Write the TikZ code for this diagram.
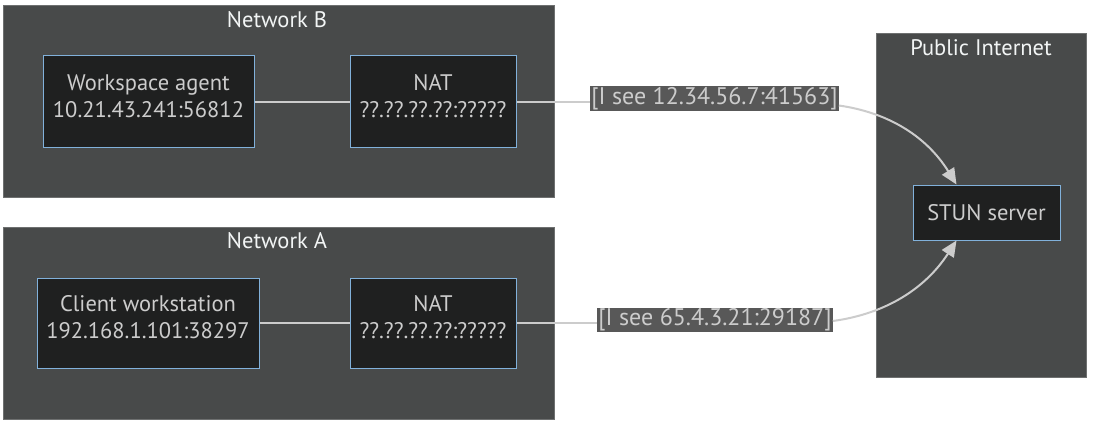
\documentclass[tikz,border=0pt]{standalone}
\usepackage{fontspec}
\setmainfont{PT Sans}
\usetikzlibrary{arrows.meta}

\definecolor{clusterbg}{HTML}{484A4A}
\definecolor{clusterline}{HTML}{6E7070}
\definecolor{nodebg}{HTML}{1F2020}
\definecolor{nodeline}{HTML}{81B1DB}
\definecolor{nodetext}{HTML}{CCCCCC}
\definecolor{titletext}{HTML}{F2F5F5}
\definecolor{labelbg}{HTML}{585858}
\definecolor{edgeline}{HTML}{CCCCCC}

\begin{document}
\begin{tikzpicture}[x=1pt, y=1pt,
  cluster/.style={fill=clusterbg, draw=clusterline, line width=0.8pt},
  title/.style={font=\fontsize{22.5}{26}\selectfont, text=titletext},
  box/.style={fill=nodebg, draw=nodeline, line width=1pt, inner sep=0pt},
  boxtext/.style={font=\fontsize{22.5}{27}\selectfont, text=nodetext, align=center},
  seen/.style={fill=labelbg, text=nodetext, font=\fontsize{24}{26}\selectfont, inner xsep=1pt, inner ysep=1pt},
  link/.style={draw=edgeline, line width=2pt},
  hop/.style={link, -{Triangle[length=16pt, width=14pt]}}]

\useasboundingbox (0,0) rectangle (1099,424);
\fill[white] (0,0) rectangle (1099,424);

% === CLUSTERS ===
\draw[cluster] (3,227) rectangle (554,419);
\node[title] (netb) at (277,404) {Network B};
\draw[cluster] (3,5) rectangle (554,197);
\node[title] (neta) at (277,183) {Network A};
\draw[cluster] (876,47) rectangle (1086,391);
\node[title] (inet) at (981,376) {Public Internet};

% === NETWORK B ===
\node[box, minimum width=211pt, minimum height=91pt] (agent) at (148.5,322.5) {};
\node[boxtext] at (148.5,328) {Workspace agent\\10.21.43.241:56812};
\node[box, minimum width=166pt, minimum height=91pt] (natb) at (433,322.5) {};
\node[boxtext] at (433,328) {NAT\\??.??.??.??:?????};

% === NETWORK A ===
\node[box, minimum width=222pt, minimum height=90pt] (client) at (148,101) {};
\node[boxtext] at (148,106.5) {Client workstation\\192.168.1.101:38297};
\node[box, minimum width=166pt, minimum height=90pt] (nata) at (433,101) {};
\node[boxtext] at (433,106.5) {NAT\\??.??.??.??:?????};

% === PUBLIC INTERNET ===
\node[box, minimum width=147pt, minimum height=55pt, text=nodetext, font=\fontsize{22.5}{26}\selectfont] (stun) at (986.5,211.5) {STUN server};

% === EDGES ===
\draw[link] (agent) -- (natb);
\draw[link] (client) -- (nata);

\node[seen] (seenb) at (714.5,325.5) {[I see 12.34.56.7:41563]};
\node[seen] (seena) at (715,104) {[I see 65.4.3.21:29187]};

\draw[link] (natb.east) -- (natb.east -| seenb.west);
\draw[link] (nata.east) -- (nata.east -| seena.west);
\draw[hop] ([yshift=-7pt]seenb.east) .. controls (885,312) and (925,290) .. ([xshift=-30pt]stun.north);
\draw[hop] ([yshift=-1pt]seena.east) .. controls (885,110) and (925,135) .. ([xshift=-30pt]stun.south);

\end{tikzpicture}
\end{document}
